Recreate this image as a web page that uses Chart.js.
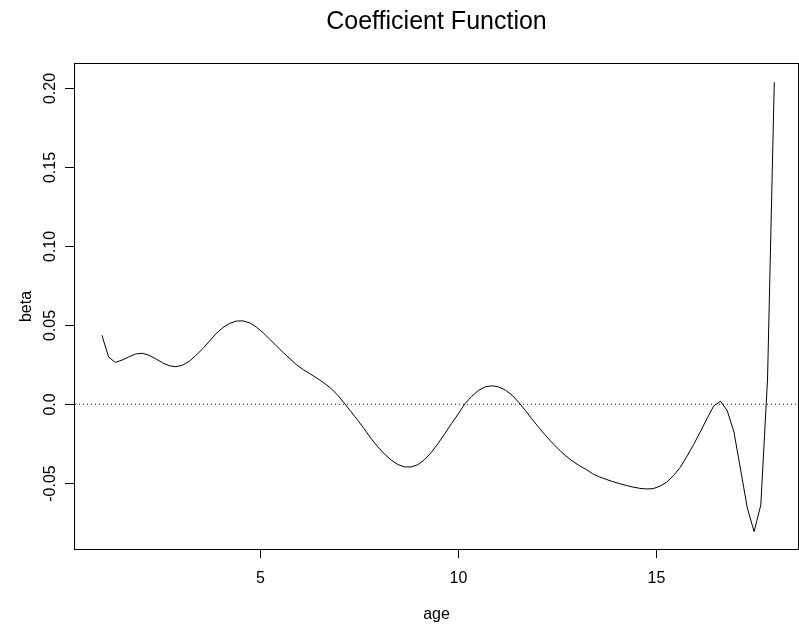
<!DOCTYPE html>
<html>
<head>
<meta charset="utf-8">
<title>Coefficient Function</title>
<script src="https://cdn.jsdelivr.net/npm/chart.js@4.4.1/dist/chart.umd.min.js"></script>
<style>
  html, body { margin: 0; padding: 0; background: #fff; }
  canvas { display: block; }
</style>
</head>
<body>
<canvas id="coefChart" width="799" height="624"></canvas>
<script>
// ages (x) and fitted coefficient beta (y)
const ages = [
  1.00, 1.17, 1.34, 1.51, 1.68, 1.85, 2.02, 2.19, 2.36, 2.53,
  2.70, 2.87, 3.04, 3.21, 3.38, 3.55, 3.72, 3.89, 4.06, 4.23,
  4.40, 4.57, 4.74, 4.91, 5.08, 5.25, 5.42, 5.59, 5.76, 5.93,
  6.10, 6.27, 6.44, 6.61, 6.78, 6.95, 7.12, 7.29, 7.46, 7.63,
  7.80, 7.97, 8.14, 8.31, 8.48, 8.65, 8.82, 8.99, 9.16, 9.33,
  9.50, 9.67, 9.84, 10.01, 10.18, 10.35, 10.52, 10.69, 10.86, 11.03,
  11.20, 11.37, 11.54, 11.71, 11.88, 12.05, 12.22, 12.39, 12.56, 12.73,
  12.90, 13.07, 13.24, 13.41, 13.58, 13.75, 13.92, 14.09, 14.26, 14.43,
  14.60, 14.77, 14.94, 15.11, 15.28, 15.45, 15.62, 15.79, 15.96, 16.13,
  16.30, 16.47, 16.64, 16.81, 16.98, 17.15, 17.32, 17.49, 17.66, 17.83,
  18.00
];
const beta = [
  0.0437, 0.0299, 0.0265, 0.0280, 0.0300, 0.0318, 0.0323, 0.0310, 0.0288, 0.0263,
  0.0244, 0.0238, 0.0248, 0.0272, 0.0310, 0.0352, 0.0400, 0.0448, 0.0486, 0.0512,
  0.0527, 0.0528, 0.0515, 0.0488, 0.0452, 0.0410, 0.0368, 0.0326, 0.0287, 0.0248,
  0.0218, 0.0192, 0.0165, 0.0136, 0.0103, 0.0061, 0.0010, -0.0044, -0.0098, -0.0155,
  -0.0215, -0.0268, -0.0314, -0.0352, -0.0381, -0.0396, -0.0397, -0.0382, -0.0350, -0.0304,
  -0.0248, -0.0186, -0.0122, -0.0061, 0.0004, 0.0050, 0.0088, 0.0110, 0.0117, 0.0110,
  0.0090, 0.0058, 0.0012, -0.0040, -0.0095, -0.0148, -0.0198, -0.0245, -0.0288, -0.0327,
  -0.0360, -0.0388, -0.0412, -0.0440, -0.0460, -0.0475, -0.0490, -0.0502, -0.0514, -0.0524,
  -0.0532, -0.0536, -0.0534, -0.0518, -0.0493, -0.0452, -0.0400, -0.0330, -0.0255, -0.0175,
  -0.0090, -0.0010, 0.0019, -0.0040, -0.0175, -0.0415, -0.0658, -0.0806, -0.0637, 0.0160,
  0.2038
];

// axis limits and ticks
const xLimits = [0.32, 18.6];
const yLimits = [-0.0916, 0.2154];
const xTicks = [5, 10, 15];
const xTickLabels = ['5', '10', '15'];
const yTicks = [-0.05, 0, 0.05, 0.10, 0.15, 0.20];
const yTickLabels = ['-0.05', '0.0', '0.05', '0.10', '0.15', '0.20'];
const refLevel = 0; // dotted reference line

const FONT = '"Liberation Sans", Arial, Helvetica, sans-serif';

// R style box, ticks and labels, placed through the chart scales
const rAxes = {
  id: 'rAxes',
  afterDraw(chart) {
    const ctx = chart.ctx;
    const area = chart.chartArea;
    const xs = chart.scales.x;
    const ys = chart.scales.y;
    ctx.save();
    ctx.strokeStyle = '#000';
    ctx.lineWidth = 1;
    ctx.strokeRect(area.left - 0.5, area.top - 0.5, area.right - area.left + 1, area.bottom - area.top + 1);

    ctx.fillStyle = '#000';
    ctx.font = '16px ' + FONT;
    ctx.textAlign = 'center';
    ctx.textBaseline = 'middle';

    // x axis
    xs.ticks.forEach((t, i) => {
      const px = Math.round(xs.getPixelForValue(t.value)) + 0.5;
      ctx.beginPath();
      ctx.moveTo(px, area.bottom);
      ctx.lineTo(px, area.bottom + 9);
      ctx.stroke();
      ctx.fillText(xTickLabels[i], px, area.bottom + 30);
    });
    ctx.fillText('age', (area.left + area.right) / 2, area.bottom + 66);

    // y axis
    ys.ticks.forEach((t, i) => {
      const py = Math.round(ys.getPixelForValue(t.value)) + 0.5;
      ctx.beginPath();
      ctx.moveTo(area.left - 10, py);
      ctx.lineTo(area.left, py);
      ctx.stroke();
      ctx.save();
      ctx.translate(area.left - 24, py);
      ctx.rotate(-Math.PI / 2);
      ctx.fillText(yTickLabels[i], 0, 0);
      ctx.restore();
    });
    ctx.save();
    ctx.translate(area.left - 48, (area.top + area.bottom) / 2);
    ctx.rotate(-Math.PI / 2);
    ctx.fillText('beta', 0, 0);
    ctx.restore();

    // title
    ctx.font = '25px ' + FONT;
    ctx.fillText('Coefficient Function', (area.left + area.right) / 2, 22);
    ctx.restore();
  }
};

const ctx = document.getElementById('coefChart').getContext('2d');
new Chart(ctx, {
  type: 'scatter',
  data: {
    datasets: [
      {
        label: 'beta',
        data: ages.map((a, i) => ({ x: a, y: beta[i] })),
        showLine: true,
        borderColor: '#000',
        borderWidth: 1,
        pointRadius: 0,
        tension: 0,
      },
      {
        label: 'zero',
        data: [{ x: xLimits[0], y: refLevel }, { x: xLimits[1], y: refLevel }],
        showLine: true,
        borderColor: '#222',
        borderWidth: 1,
        borderDash: [1, 3],
        pointRadius: 0,
      },
    ],
  },
  options: {
    responsive: false,
    animation: false,
    layout: {
      padding: { top: 64, left: 75, right: 1, bottom: 75 },
    },
    scales: {
      x: {
        type: 'linear',
        min: xLimits[0],
        max: xLimits[1],
        display: false,
        afterBuildTicks: s => { s.ticks = xTicks.map(v => ({ value: v })); },
      },
      y: {
        type: 'linear',
        min: yLimits[0],
        max: yLimits[1],
        display: false,
        afterBuildTicks: s => { s.ticks = yTicks.map(v => ({ value: v })); },
      },
    },
    plugins: {
      legend: { display: false },
      tooltip: { enabled: false },
    },
  },
  plugins: [rAxes],
});
</script>
</body>
</html>
